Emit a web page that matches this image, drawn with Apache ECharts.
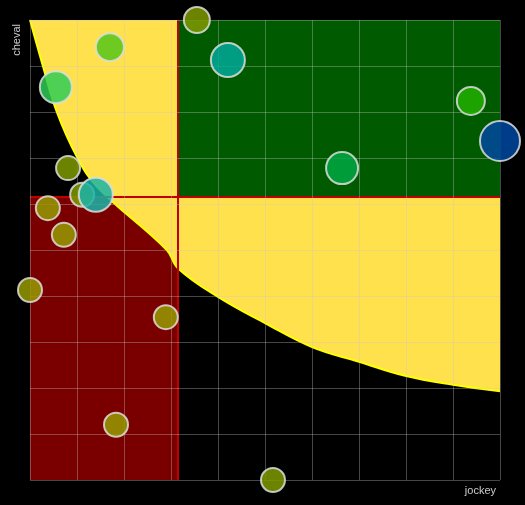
<!DOCTYPE html><html><head><meta charset="utf-8">
<script src="https://cdn.jsdelivr.net/npm/echarts@6/dist/echarts.min.js"></script>
<style>html,body{margin:0;background:#000}#c{width:525px;height:505px}</style></head><body><div id="c"></div>
<script>
const curveX = [0,0.28,0.57,1.0,1.43,2.91,3.15,4,5,6,7,8,9,10];
const curveY = [10,8.98,8.0,7.02,6.37,5.0,4.6,3.98,3.41,2.89,2.57,2.26,2.07,1.93];
const thresholdX = 3.15;
const thresholdY = 6.15;
const bubbleX = [3.55,1.70,4.21,0.55,9.38,10,6.64,0.81,1.11,1.40,0.38,0.72,0,2.89,1.83,5.17];
const bubbleY = [10,9.41,9.13,8.54,8.24,7.37,6.78,6.78,6.2,6.2,5.91,5.33,4.13,3.54,1.2,0];
const bubbleSize = [26,28,34,32,28,40,32,24,24,34,24,24,24,24,24,24];
const bubbleColors = ['#7f9a00','#55c41a','#00a99a','#2ecc55','#22b000','#0048a0','#00a844','#7f9a00','#7f9a00','#1ab4a8','#979a00','#979a00','#979a00','#979a00','#979a00','#7f9a00'];
const chart = echarts.init(document.getElementById('c'));
const split = {show:true,lineStyle:{color:'rgba(200,200,200,0.35)',width:1}};
function rectSeries(data,color,z){
  return {type:'custom',z:z,silent:true,data:data,renderItem:function(p,api){
    const a=api.coord([api.value(0),api.value(1)]), b=api.coord([api.value(2),api.value(3)]);
    return {type:'rect',shape:{x:Math.min(a[0],b[0]),y:Math.min(a[1],b[1]),width:Math.abs(b[0]-a[0]),height:Math.abs(b[1]-a[1])},style:{fill:color}};
  }};
}
chart.setOption({
  backgroundColor:'#000',animation:false,
  grid:{left:30,right:25,top:20,bottom:25},
  xAxis:{type:'value',name:'jockey',nameLocation:'end',nameGap:0,
    nameTextStyle:{color:'#ccc',fontSize:11,align:'right',verticalAlign:'top',padding:[5,4,0,0]},
    min:0,max:10,interval:1,axisLabel:{show:false},axisTick:{show:false},axisLine:{show:false},splitLine:split,z:10},
  yAxis:{type:'value',name:'cheval',nameLocation:'end',nameRotate:90,nameGap:0,
    nameTextStyle:{color:'#ccc',fontSize:11,align:'right',verticalAlign:'bottom',padding:[0,4,8,0]},
    min:0,max:10,interval:1,axisLabel:{show:false},axisTick:{show:false},axisLine:{show:false},splitLine:split,z:10},
  series:[
    rectSeries([[0,0,thresholdX,thresholdY]],'#7a0000',1),
    {type:'line',z:2,data:curveX.map((x,i)=>[x,curveY[i]]),showSymbol:false,smooth:0.4,
      lineStyle:{color:'#ffff00',width:2},areaStyle:{origin:'end',color:'#ffe14d',opacity:1}},
    rectSeries([[thresholdX,thresholdY,10,10]],'#005a00',3),
    {type:'line',data:[],z:4,markLine:{silent:true,symbol:'none',label:{show:false},lineStyle:{color:'#c00000',width:2,type:'solid'},
      data:[[{coord:[thresholdX,0]},{coord:[thresholdX,10]}],[{coord:[0,thresholdY]},{coord:[10,thresholdY]}]]}},
    {type:'scatter',z:20,data:bubbleX.map((x,i)=>({value:[x,bubbleY[i]],symbolSize:bubbleSize[i],
      itemStyle:{color:bubbleColors[i],opacity:0.85,borderColor:'#ddd',borderWidth:2}}))}
  ]
});
</script></body></html>
